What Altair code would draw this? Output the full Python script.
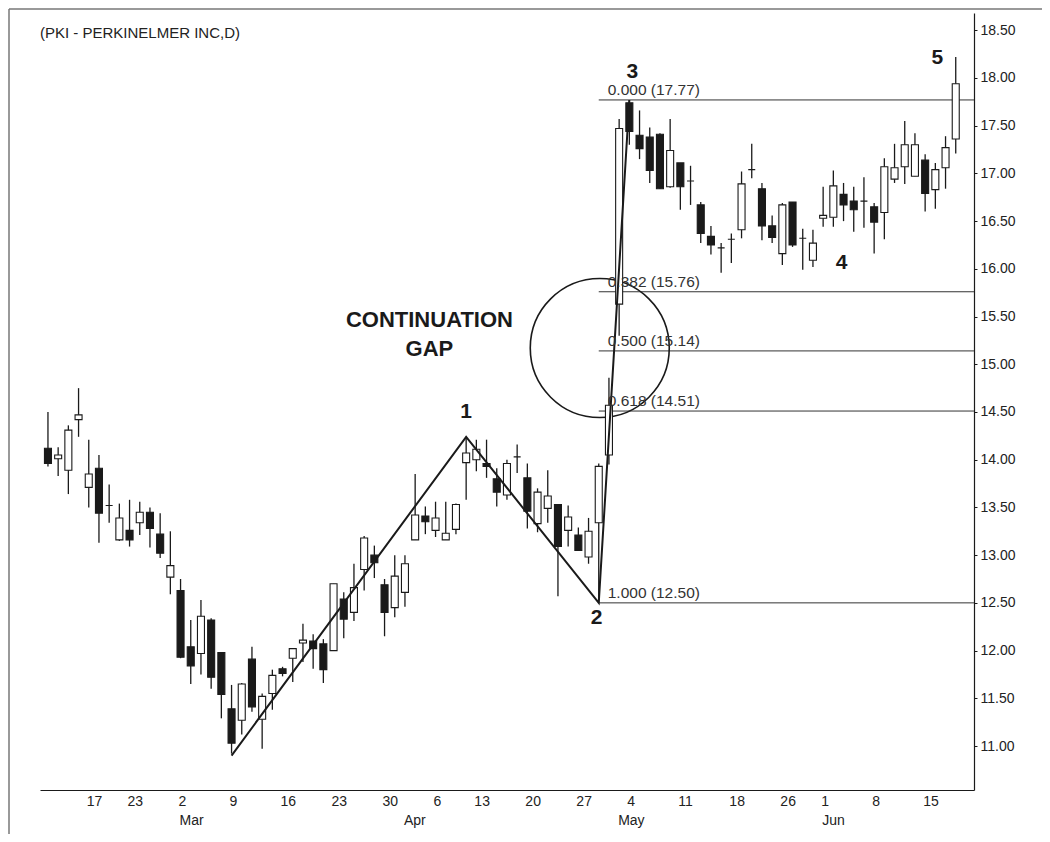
import altair as alt
import pandas as pd

# --- candle data (trading days 10 Feb .. 18 Jun 2009, index 0..89) ---
opens = [14.12, 14.01, 13.89, 14.42, 13.71, 13.91, 13.52, 13.16, 13.26, 13.34,
         13.45, 13.22, 12.77, 12.63, 12.04, 11.97, 12.32, 11.98, 11.39, 11.27,
         11.91, 11.28, 11.55, 11.81, 11.92, 12.08, 12.10, 12.07, 12.00, 12.54,
         12.40, 12.85, 13.00, 12.69, 12.45, 12.61, 13.16, 13.41, 13.26, 13.16,
         13.27, 13.97, 14.00, 13.96, 13.80, 13.63, 14.03, 13.81, 13.33, 13.49,
         13.53, 13.26, 13.21, 12.98, 13.34, 14.05, 15.63, 17.74, 17.40, 17.38,
         17.41, 16.86, 17.11, 16.92, 16.67, 16.34, 16.22, 16.31, 16.41, 17.04,
         16.84, 16.45, 16.16, 16.70, 16.32, 16.09, 16.53, 16.54, 16.78, 16.71,
         16.71, 16.65, 16.59, 16.94, 17.07, 16.97, 17.14, 16.83, 17.06, 17.36]
highs = [14.50, 14.13, 14.36, 14.75, 14.21, 14.05, 13.74, 13.54, 13.58, 13.56,
         13.50, 13.44, 13.25, 12.75, 12.32, 12.53, 12.34, 11.98, 11.64, 11.66,
         12.04, 11.55, 11.80, 11.83, 12.02, 12.28, 12.17, 12.12, 12.70, 12.61,
         12.91, 13.20, 13.10, 12.75, 13.00, 13.00, 13.85, 13.51, 13.56, 13.56,
         13.54, 14.24, 14.21, 14.21, 13.91, 14.00, 14.16, 13.96, 13.70, 13.89,
         13.53, 13.52, 13.29, 13.39, 13.96, 14.86, 17.57, 17.77, 17.66, 17.48,
         17.42, 17.57, 17.11, 17.08, 16.70, 16.45, 16.27, 16.37, 17.02, 17.31,
         16.90, 16.56, 16.69, 16.70, 16.42, 16.41, 16.86, 17.03, 16.90, 16.86,
         16.96, 16.69, 17.16, 17.31, 17.55, 17.42, 17.20, 17.11, 17.39, 18.22]
lows = [13.93, 13.83, 13.64, 14.24, 13.50, 13.13, 13.34, 13.15, 13.09, 13.21,
        13.08, 12.97, 12.59, 11.92, 11.65, 11.75, 11.60, 11.29, 10.92, 11.12,
        11.36, 10.97, 11.38, 11.73, 11.67, 11.88, 11.81, 11.66, 12.00, 12.13,
        12.31, 12.63, 12.76, 12.15, 12.35, 12.46, 13.16, 13.22, 13.19, 13.16,
        13.22, 13.58, 13.88, 13.81, 13.51, 13.58, 13.86, 13.28, 13.24, 13.34,
        12.57, 13.09, 13.05, 12.91, 12.50, 13.95, 15.30, 17.30, 17.15, 16.90,
        16.84, 16.85, 16.62, 16.67, 16.27, 16.15, 15.96, 16.06, 16.32, 16.95,
        16.30, 16.27, 16.04, 16.23, 15.99, 16.02, 16.44, 16.44, 16.50, 16.39,
        16.43, 16.16, 16.31, 16.90, 16.89, 16.97, 16.60, 16.63, 16.84, 17.21]
closes = [13.96, 14.05, 14.31, 14.47, 13.85, 13.44, 13.52, 13.39, 13.16, 13.45,
          13.28, 13.02, 12.89, 11.93, 11.84, 12.36, 11.72, 11.54, 11.03, 11.65,
          11.41, 11.52, 11.74, 11.76, 12.02, 12.11, 12.02, 11.80, 12.70, 12.33,
          12.66, 13.18, 12.92, 12.40, 12.78, 12.91, 13.42, 13.35, 13.39, 13.23,
          13.53, 14.07, 14.11, 13.93, 13.66, 13.96, 14.03, 13.46, 13.66, 13.62,
          13.09, 13.40, 13.05, 13.25, 13.93, 14.57, 17.47, 17.44, 17.26, 17.03,
          16.84, 17.24, 16.86, 16.92, 16.37, 16.25, 16.22, 16.31, 16.89, 17.04,
          16.45, 16.33, 16.67, 16.25, 16.32, 16.27, 16.56, 16.87, 16.67, 16.62,
          16.71, 16.49, 17.07, 17.06, 17.30, 17.30, 16.79, 17.04, 17.27, 17.94]

# --- x-axis labels (trading-day index -> text) ---
day_idx = [4, 8, 13, 18, 23, 28, 33, 38, 42, 47, 52, 57, 62, 67, 72, 76, 81, 86]
day_txt = ["17", "23", "2", "9", "16", "23", "30", "6", "13", "20", "27",
           "4", "11", "18", "26", "1", "8", "15"]
month_idx = [13, 35, 56, 76]
month_txt = ["Mar", "Apr", "May", "Jun"]

# --- y-axis tick values ---
y_ticks = [11.0, 11.5, 12.0, 12.5, 13.0, 13.5, 14.0, 14.5, 15.0, 15.5,
           16.0, 16.5, 17.0, 17.5, 18.0, 18.5]

# --- annotations ---
trend_idx = [18, 41, 54, 57]
trend_val = [10.90, 14.24, 12.50, 17.77]
fib_val = [17.77, 15.76, 15.14, 14.51, 12.50]
fib_txt = ["0.000 (17.77)", "0.382 (15.76)", "0.500 (15.14)", "0.618 (14.51)", "1.000 (12.50)"]
fib_start = 54
wave_txt = ["1", "2", "3", "4", "5"]
wave_idx = [41, 53.8, 57.3, 77.8, 87.2]
wave_val = [14.50, 12.34, 18.06, 16.06, 18.21]
gap_txt = ["CONTINUATION", "GAP"]
gap_idx = [37.4, 37.4]
gap_val = [15.46, 15.16]
circle_idx = [54.1]
circle_val = [15.17]

W, H = 934, 777
XDOM = [-0.29, 90.30]
YDOM = [10.539, 18.681]
FONT = "Liberation Sans"
INK = "#1a1a1a"

df = pd.DataFrame({"i": list(range(len(opens))), "o": opens, "h": highs,
                   "l": lows, "c": closes})
df["dir"] = ["down" if c < o else "up" for o, c in zip(opens, closes)]

xs = alt.Scale(domain=XDOM, nice=False, zero=False)
ys = alt.Scale(domain=YDOM, nice=False, zero=False)

base = alt.Chart(df)

wicks = base.mark_rule(color=INK, strokeWidth=1.3).encode(
    x=alt.X("i:Q", scale=xs, axis=alt.Axis(labels=False, ticks=False, grid=False,
                                             domainColor=INK, domainWidth=1.2, title=None)),
    y=alt.Y("l:Q", scale=ys, axis=alt.Axis(orient="right", values=y_ticks, format=".2f",
                                             grid=False, title=None, tickSize=3,
                                             tickColor=INK, domainColor=INK, domainWidth=1.2,
                                             labelFont=FONT, labelFontSize=14,
                                             labelColor="#222", labelPadding=3)),
    y2="h:Q",
)

bodies = base.mark_bar(size=7, stroke=INK, strokeWidth=1.1).encode(
    x=alt.X("i:Q", scale=xs),
    y=alt.Y("o:Q", scale=ys),
    y2="c:Q",
    fill=alt.Fill("dir:N", scale=alt.Scale(domain=["up", "down"], range=["white", INK]),
                  legend=None),
)

trend_df = pd.DataFrame({"i": trend_idx, "v": trend_val})
trend = alt.Chart(trend_df).mark_line(color=INK, strokeWidth=2).encode(
    x=alt.X("i:Q", scale=xs), y=alt.Y("v:Q", scale=ys))

fib_df = pd.DataFrame({"v": fib_val, "t": fib_txt, "i": [fib_start] * len(fib_val)})
fib_lines = alt.Chart(fib_df).mark_rule(color="#333", strokeWidth=1).encode(
    x=alt.X("i:Q", scale=xs), x2=alt.value(W), y=alt.Y("v:Q", scale=ys))
fib_labels = alt.Chart(fib_df).mark_text(
    align="left", baseline="bottom", dx=9, dy=-2, font=FONT, fontSize=15.5, color="#333"
).encode(x=alt.X("i:Q", scale=xs), y=alt.Y("v:Q", scale=ys), text="t:N")

wave_df = pd.DataFrame({"t": wave_txt, "i": wave_idx, "v": wave_val})
waves = alt.Chart(wave_df).mark_text(
    align="center", baseline="middle", font=FONT, fontSize=21, fontWeight="bold", color=INK
).encode(x=alt.X("i:Q", scale=xs), y=alt.Y("v:Q", scale=ys), text="t:N")

gap_df = pd.DataFrame({"t": gap_txt, "i": gap_idx, "v": gap_val})
gap = alt.Chart(gap_df).mark_text(
    align="center", baseline="middle", font=FONT, fontSize=22, fontWeight="bold", color=INK
).encode(x=alt.X("i:Q", scale=xs), y=alt.Y("v:Q", scale=ys), text="t:N")

circ_df = pd.DataFrame({"i": circle_idx, "v": circle_val})
circle = alt.Chart(circ_df).mark_point(
    shape="circle", size=139 * 139, filled=False, stroke=INK, strokeWidth=1.6, opacity=1
).encode(x=alt.X("i:Q", scale=xs), y=alt.Y("v:Q", scale=ys))

days_df = pd.DataFrame({"i": day_idx, "t": day_txt})
days = alt.Chart(days_df).mark_text(
    align="left", baseline="middle", font=FONT, fontSize=14, color="#222", dx=-2
).encode(x=alt.X("i:Q", scale=xs), y=alt.value(H + 12), text="t:N")

months_df = pd.DataFrame({"i": month_idx, "t": month_txt})
months = alt.Chart(months_df).mark_text(
    align="left", baseline="middle", font=FONT, fontSize=14, color="#222", dx=-1
).encode(x=alt.X("i:Q", scale=xs), y=alt.value(H + 31), text="t:N")

title_df = pd.DataFrame({"t": ["(PKI - PERKINELMER INC,D)"]})
title = alt.Chart(title_df).mark_text(
    align="left", baseline="middle", font=FONT, fontSize=15, color="#222"
).encode(x=alt.value(0), y=alt.value(20), text="t:N")

frame_top = alt.Chart(title_df).mark_rule(color="#777", strokeWidth=1.5).encode(
    x=alt.value(-31), x2=alt.value(W + 68), y=alt.value(-4))
frame_left = alt.Chart(title_df).mark_rule(color="#777", strokeWidth=1.5).encode(
    x=alt.value(-31), y=alt.value(-4), y2=alt.value(H + 60))

chart = alt.layer(
    frame_top, frame_left, fib_lines, circle, wicks, bodies, trend,
    fib_labels, waves, gap, days, months, title
).properties(
    width=W, height=H,
    autosize=alt.AutoSizeParams(type="none"),
    padding={"left": 32, "top": 5, "right": 68, "bottom": 44},
    background="white",
).configure_view(stroke="transparent")

chart.save("out.html", embed_options={"renderer": "svg", "actions": False})
